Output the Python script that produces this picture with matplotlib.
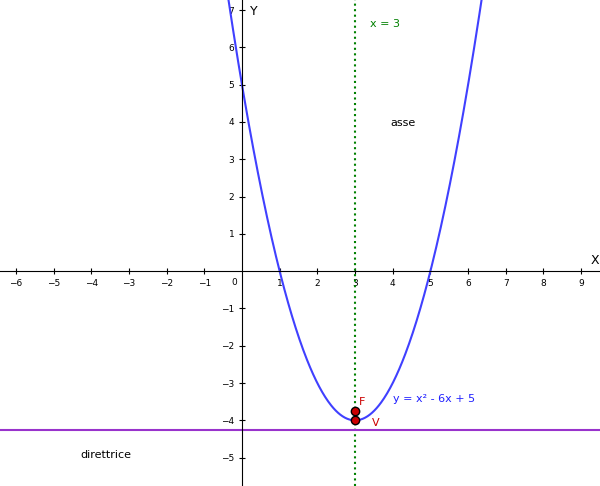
import numpy as np
import matplotlib.pyplot as plt

# data
a, b, c = 1, -6, 5
axis_x = 3
directrix_y = -4.25
focus = (3, -3.75)
vertex = (3, -4)
xticks = [-6, -5, -4, -3, -2, -1, 1, 2, 3, 4, 5, 6, 7, 8, 9]
yticks = [-5, -4, -3, -2, -1, 1, 2, 3, 4, 5, 6, 7]

fig = plt.figure(figsize=(6, 4.86), dpi=100)
ax = fig.add_axes([0, 0, 1, 1])
ax.set_xlim(-6.42, 9.5)
ax.set_ylim(-5.76, 7.27)

for s in ['top', 'right']:
    ax.spines[s].set_visible(False)
ax.spines['left'].set_position(('data', 0))
ax.spines['bottom'].set_position(('data', 0))
ax.spines['left'].set_linewidth(0.8)
ax.spines['bottom'].set_linewidth(0.8)
ax.set_xticks(xticks)
ax.set_yticks(yticks)
ax.set_xticklabels([str(t).replace('-', '\u2212') for t in xticks], fontsize=6.5)
ax.set_yticklabels([str(t).replace('-', '\u2212') for t in yticks], fontsize=6.5)
ax.tick_params(direction='inout', length=5, width=0.8, pad=3)
ax.text(-0.12, -0.18, '0', fontsize=6.5, ha='right', va='top')
ax.text(9.25, 0.1, 'X', fontsize=9, va='bottom')
ax.text(0.2, 6.95, 'Y', fontsize=9, va='center')

# parabola
xs = np.linspace(-1, 7, 400)
ax.plot(xs, a * xs**2 + b * xs + c, color='#4040ff', lw=1.5)
ax.text(4.0, -3.5, 'y = x² - 6x + 5', color='#2020ff', fontsize=8)

# axis of symmetry
ax.axvline(axis_x, color='#008000', ls=':', lw=1.5)
ax.text(3.4, 6.55, 'x = 3', color='#008000', fontsize=8)
ax.text(3.95, 3.9, 'asse', color='black', fontsize=8)

# directrix
ax.axhline(directrix_y, color='#9933cc', lw=1.5)
ax.text(-4.3, -5.0, 'direttrice', fontsize=8)

# focus and vertex
ax.plot(*focus, 'o', color='#cc0000', mec='black', ms=6)
ax.plot(*vertex, 'o', color='#cc0000', mec='black', ms=6)
ax.text(3.1, -3.6, 'F', color='#cc0000', fontsize=8)
ax.text(3.45, -4.15, 'V', color='#cc0000', fontsize=8)

fig.savefig('out.png', dpi=100)
